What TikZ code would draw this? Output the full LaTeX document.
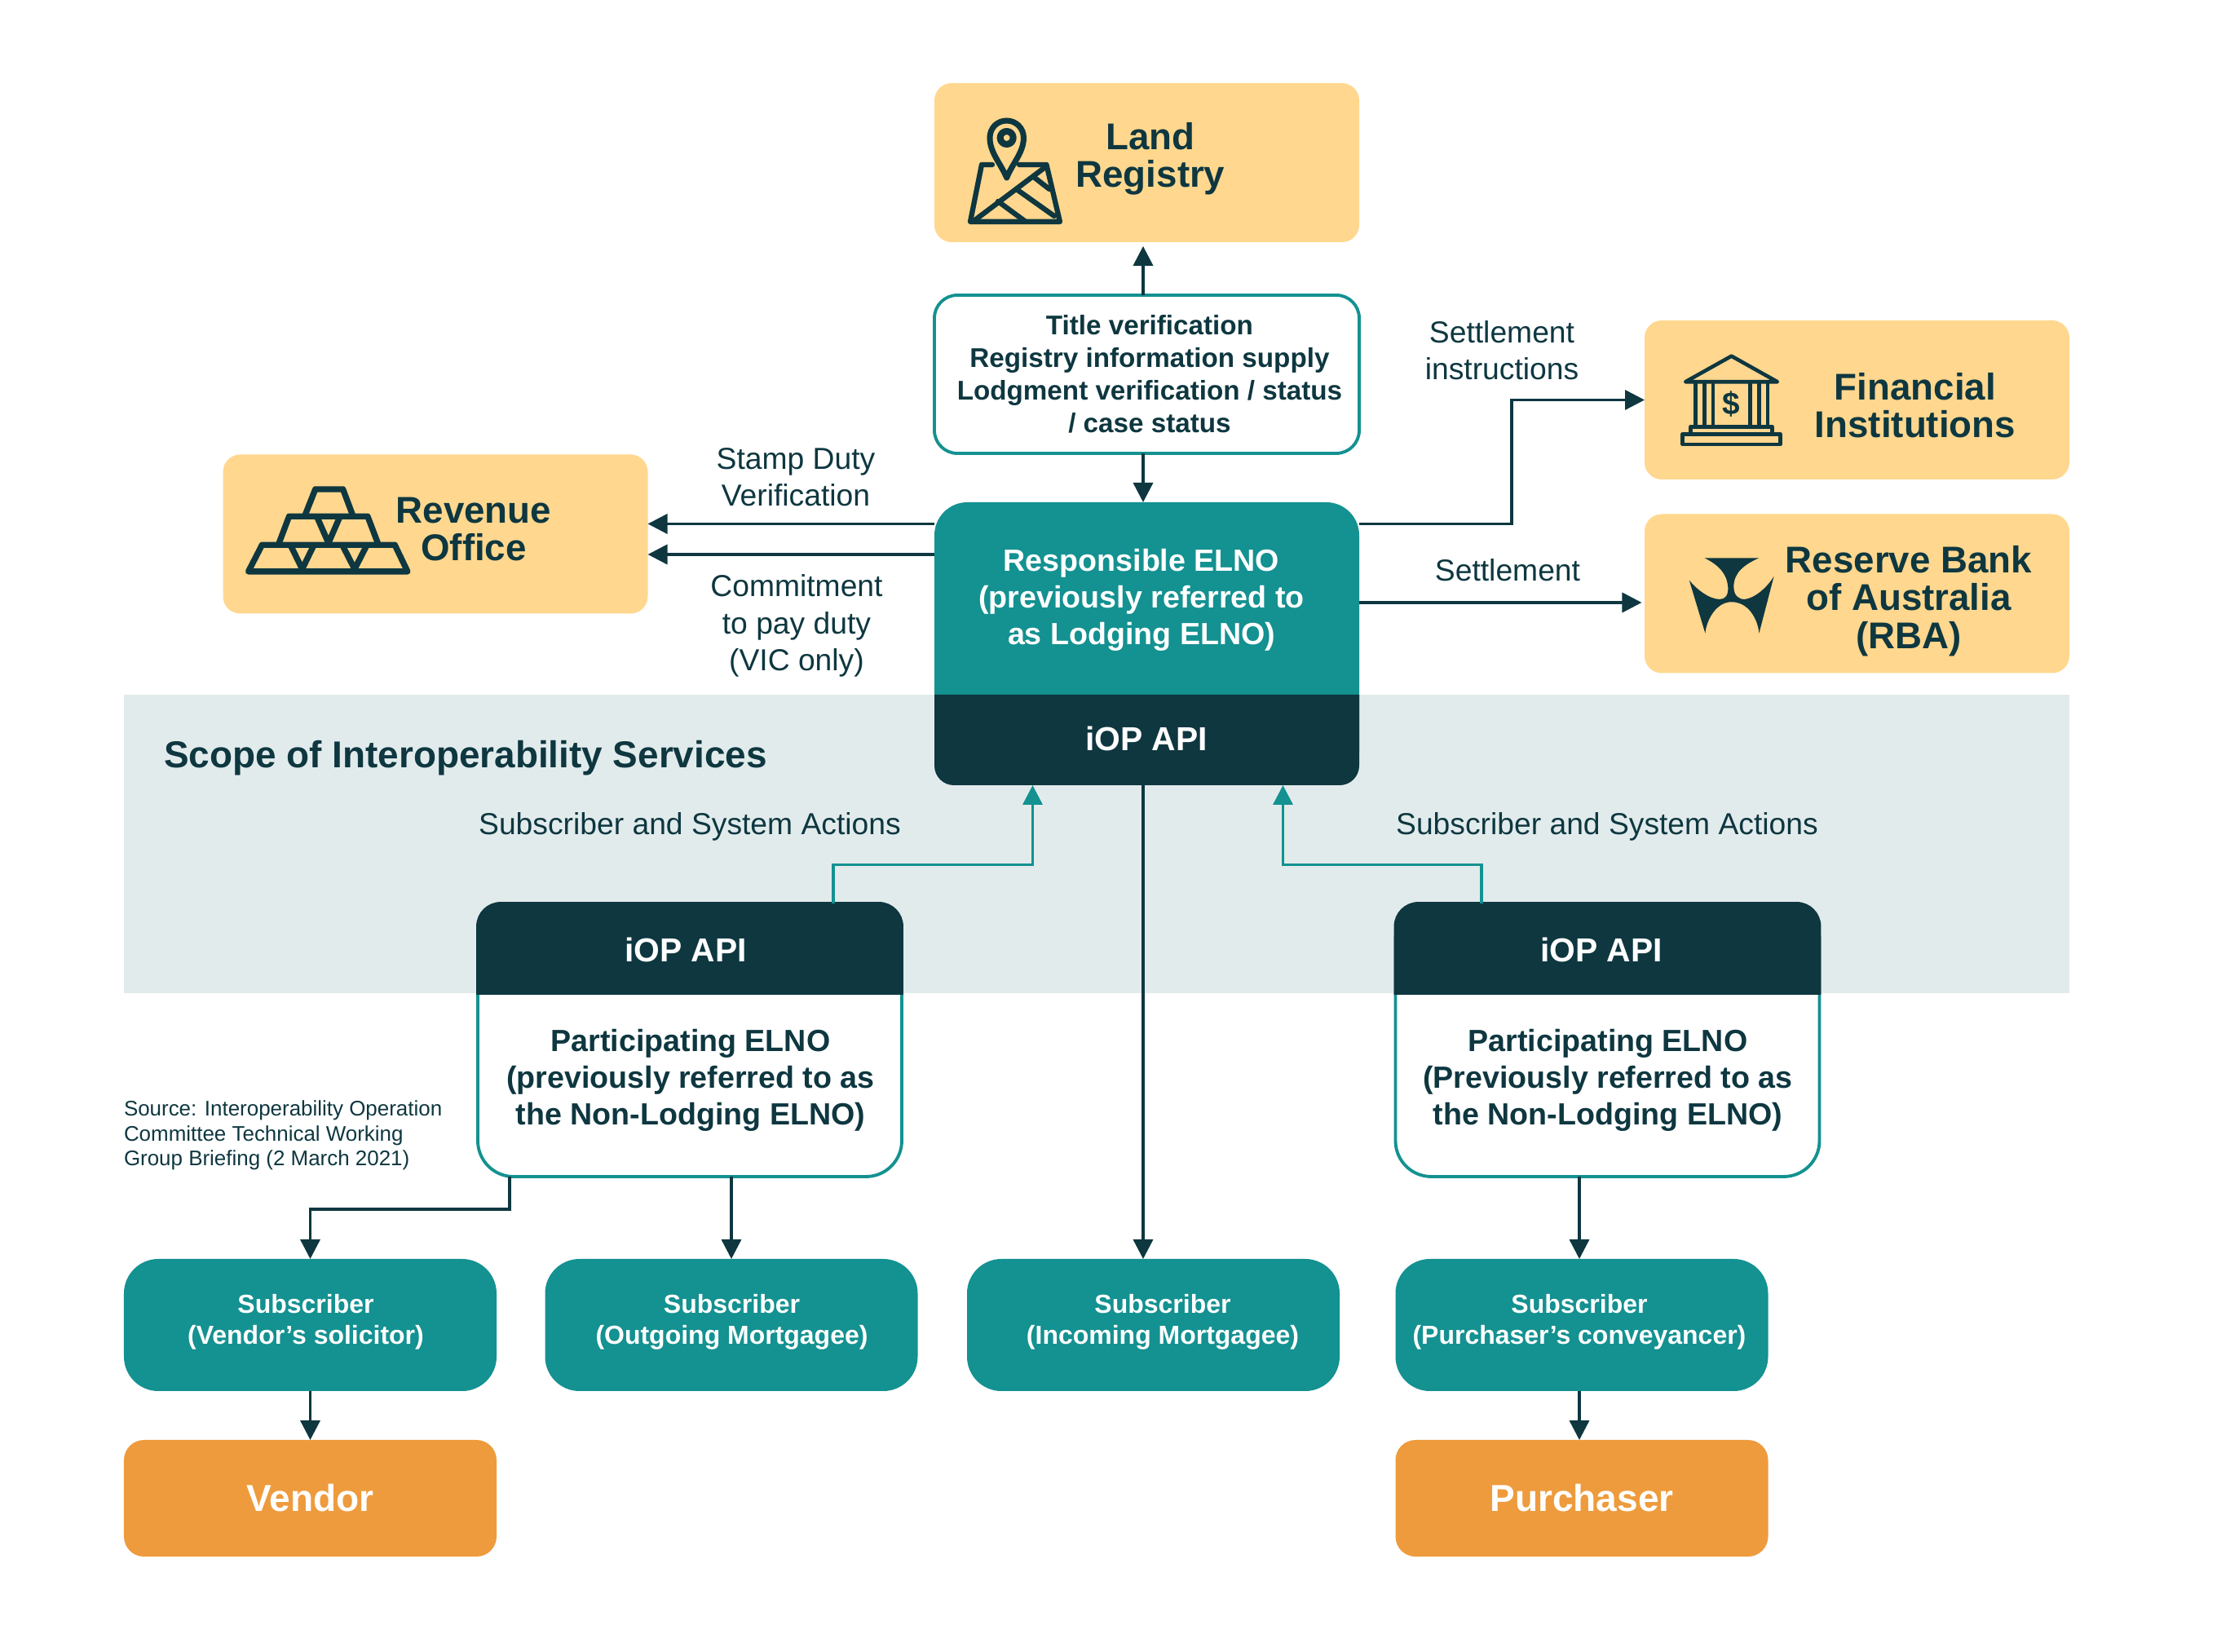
\documentclass[tikz,border=0pt]{standalone}
\usepackage{fontspec}
\setmainfont{Liberation Sans}
\usetikzlibrary{arrows.meta}

\definecolor{inkdark}{HTML}{0E3740}
\definecolor{tealbox}{HTML}{149191}
\definecolor{creambox}{HTML}{FFD78E}
\definecolor{orangebox}{HTML}{EE9B3D}
\definecolor{scopeband}{HTML}{E2EBEC}

\begin{document}
\begin{tikzpicture}[align=center, inner sep=0pt, outer sep=0pt, text=inkdark,
  agency/.style={fill=creambox, rounded corners=6pt, minimum width=5.21cm, minimum height=1.95cm},
  agencytext/.style={font=\bfseries\fontsize{13pt}{13.2pt}\selectfont},
  subscriber/.style={fill=tealbox, rounded corners=12pt, minimum width=4.57cm, minimum height=1.62cm},
  subtext/.style={text=white, font=\bfseries\fontsize{9.1pt}{10.9pt}\selectfont},
  party/.style={fill=orangebox, text=white, rounded corners=7pt, minimum width=4.57cm, minimum height=1.43cm,
    font=\bfseries\fontsize{13.1pt}{13.2pt}\selectfont},
  participant/.style={draw=tealbox, fill=white, line width=1.1pt, rounded corners=12.5pt, minimum width=5.20cm, minimum height=3.35cm},
  elnotext/.style={font=\bfseries\fontsize{10.7pt}{12.8pt}\selectfont},
  apitext/.style={text=white, font=\bfseries\fontsize{11.6pt}{13pt}\selectfont},
  flowtext/.style={font=\fontsize{10.6pt}{12.9pt}\selectfont},
  link/.style={draw=inkdark, line width=1pt, -{Triangle[length=.24cm,width=.24cm]}},
  apilink/.style={draw=tealbox, line width=1pt, -{Triangle[length=.24cm,width=.24cm]}},
  icon/.style={draw=inkdark, line join=round, line cap=round}]

\useasboundingbox (0, 0) rectangle (27.35, 20.26);

\fill[scopeband] (1.515, 8.08) rectangle (25.38, 11.74);

\node[agency] (land) at (14.065, 18.265) {};
\node[agencytext] (landtext) at (14.11, 18.31) {Land\\Registry};
\node[draw=tealbox, fill=white, line width=1.1pt, rounded corners=8pt, minimum width=5.21cm, minimum height=1.94cm] (title) at (14.065, 15.67) {};
\node[font=\bfseries\fontsize{9.45pt}{11.4pt}\selectfont] (titletext) at (14.10, 15.67)
  {Title verification\\Registry information supply\\Lodgment verification / status\\/ case status};
\node[agency] (revenue) at (5.34, 13.71) {};
\node[agencytext] (revenuetext) at (5.81, 13.77) {Revenue\\Office};
\node[agency] (financial) at (22.775, 15.355) {};
\node[agencytext] (financialtext) at (23.49, 15.29) {Financial\\Institutions};
\node[agency] (reserve) at (22.775, 12.98) {};
\node[agencytext] (reservetext) at (23.41, 12.89) {Reserve Bank\\of Australia\\(RBA)};

\node[fill=tealbox, rounded corners=11.5pt, minimum width=5.21cm, minimum height=3.47cm] (elno) at (14.065, 12.365) {};
\fill[inkdark] (11.46, 11.74) [rounded corners=6.8pt] -- (11.46, 10.63) -- (16.67, 10.63) [sharp corners] -- (16.67, 11.74) -- cycle;
\node[elnotext, text=white] (elnolabel) at (14.00, 12.90) {Responsible ELNO\\(previously referred to\\as Lodging ELNO)};
\node[apitext] (elnoapi) at (14.06, 11.20) {iOP API};

\node[participant] (partleft) at (8.46, 7.505) {};
\filldraw[draw=inkdark, fill=inkdark, line width=1.1pt] (5.86, 8.08) [rounded corners=8pt] -- (5.86, 9.18) -- (11.06, 9.18) [sharp corners] -- (11.06, 8.08) -- cycle;
\node[apitext] (apileft) at (8.41, 8.61) {iOP API};
\node[elnotext] (partlefttext) at (8.47, 7.01) {Participating ELNO\\(previously referred to as\\the Non-Lodging ELNO)};

\node[participant] (partright) at (19.715, 7.505) {};
\filldraw[draw=inkdark, fill=inkdark, line width=1.1pt] (17.115, 8.08) [rounded corners=8pt] -- (17.115, 9.18) -- (22.315, 9.18) [sharp corners] -- (22.315, 8.08) -- cycle;
\node[apitext] (apiright) at (19.64, 8.61) {iOP API};
\node[elnotext] (partrighttext) at (19.72, 7.01) {Participating ELNO\\(Previously referred to as\\the Non-Lodging ELNO)};

\node[subscriber] (subvendor) at (3.805, 4.01) {};
\node[subtext] (subvendortext) at (3.75, 4.05) {Subscriber\\(Vendor’s solicitor)};
\node[subscriber] (subout) at (8.97, 4.01) {};
\node[subtext] (subouttext) at (8.975, 4.05) {Subscriber\\(Outgoing Mortgagee)};
\node[subscriber] (subin) at (14.145, 4.01) {};
\node[subtext] (subintext) at (14.26, 4.05) {Subscriber\\(Incoming Mortgagee)};
\node[subscriber] (subpurch) at (19.40, 4.01) {};
\node[subtext] (subpurchtext) at (19.37, 4.05) {Subscriber\\(Purchaser’s conveyancer)};

\node[party] (vendor) at (3.805, 1.885) {Vendor};
\node[party] (purchaser) at (19.40, 1.885) {Purchaser};

\node[font=\bfseries\fontsize{13.06pt}{15pt}\selectfont, anchor=west] (scopelabel) at (2.01, 10.965) {Scope of Interoperability Services};
\node[font=\fontsize{7.38pt}{8.7pt}\selectfont, align=left, anchor=west] (source) at (1.52, 6.335)
  {Source: Interoperability Operation\\Committee Technical Working\\Group Briefing (2 March 2021)};

\node[flowtext] (stamp) at (9.76, 14.405) {Stamp Duty\\Verification};
\node[flowtext] (commit) at (9.77, 12.585) {Commitment\\to pay duty\\(VIC only)};
\node[flowtext] (instr) at (18.42, 15.96) {Settlement\\instructions};
\node[flowtext] (settle) at (18.49, 13.265) {Settlement};
\node[flowtext] (actleft) at (8.46, 10.125) {Subscriber and System Actions};
\node[flowtext] (actright) at (19.71, 10.125) {Subscriber and System Actions};

\coordinate (mid) at (14.02, 10);
\coordinate (dutytop) at (10, 13.835);
\coordinate (dutylow) at (10, 13.46);
\coordinate (finbend) at (18.54, 15.355);
\coordinate (settley) at (18, 12.87);
\coordinate (leftup) at (10.22, 9.655);
\coordinate (leftarr) at (12.665, 9.655);
\coordinate (rightup) at (18.17, 9.655);
\coordinate (rightarr) at (15.735, 9.655);
\coordinate (vendorbend) at (6.25, 5.43);
\coordinate (purchx) at (19.37, 5);

\draw[link, shorten >=1.4pt] (title.north -| mid) -- (land.south -| mid);
\draw[link] (title.south -| mid) -- (elno.north -| mid);
\draw[link] (elno.west |- dutytop) -- (revenue.east |- dutytop);
\draw[link] (elno.west |- dutylow) -- (revenue.east |- dutylow);
\draw[link] (elno.east |- dutytop) -| (finbend) -- (financial.west);
\draw[link, shorten >=1pt] (elno.east |- settley) -- (reserve.west |- settley);
\draw[link] (elno.south -| mid) -- (subin.north -| mid);
\draw[apilink] (partleft.north -| leftup) -- (leftup) -| (elno.south -| leftarr);
\draw[apilink] (partright.north -| rightup) -- (rightup) -| (elno.south -| rightarr);
\draw[link] (partleft.south -| vendorbend) -- (vendorbend) -| (subvendor.north);
\draw[link] (partleft.south -| subout.north) -- (subout.north);
\draw[link] (partright.south -| purchx) -- (subpurch.north -| purchx);
\draw[link] (subvendor.south) -- (vendor.north);
\draw[link] (subpurch.south -| purchx) -- (purchaser.north -| purchx);

% map pin
\begin{scope}[shift={(11.87, 18.81)}, x=.01cm, y=-.01cm, icon, line width=1.8pt]
\draw[line width=2pt] (47.7,73) .. controls (40,55) and (27,42) .. (27,24) .. controls (27,12) and (36,3) .. (47.7,3) .. controls (59,3) and (68.5,12) .. (68.5,24) .. controls (68.5,42) and (55,55) .. (47.7,73) -- cycle;
\draw[line width=2.3pt] (47.7,24) circle (8);
\draw (30,57) -- (17,57) -- (3,127) -- (113,127) -- (96.5,57) -- (63,57);
\draw (6,127) -- (95,60);
\draw (37,102) -- (71,127);
\draw (59.5,87) -- (106,120);
\draw (82,73) -- (100,87);
\end{scope}

% gold bars
\begin{scope}[shift={(3.00, 14.36)}, x=.01cm, y=-.01cm, icon, line width=2.1pt]
\draw (4.6,111) -- (21.4,78.3) -- (184.3,78.3) -- (200,111) -- cycle;
\draw (41.4,78.3) -- (54.6,43.3) -- (151,43.3) -- (164.3,78.3);
\draw (73.6,43.3) -- (86.8,10) -- (120.7,10) -- (133.2,43.3);
\draw (89.3,45) -- (102.9,76) -- (116.4,45);
\draw (57,80) -- (70.7,108) -- (84.3,80);
\draw (120.7,80) -- (135,108) -- (149.3,80);
\end{scope}

% bank
\begin{scope}[shift={(20.60, 15.96)}, x=.01cm, y=-.01cm, icon, line width=1.3pt]
\draw (7.1,38.3) -- (63.6,6.7) -- (120,38.3) -- cycle;
\foreach \colx in {19.6, 30.4, 41, 86.8, 97.5, 108.2}
  \draw (\colx,38.3) -- (\colx,93.3);
\draw (13.6,101.7) -- (13.6,93.3) -- (113.6,93.3) -- (113.6,101.7);
\draw (3.6,102.7) rectangle (123.6,115);
\node[font=\bfseries\fontsize{11pt}{11pt}\selectfont] (dollar) at (63.6,66) {\$};
\end{scope}

% reserve bank mark
\begin{scope}[shift={(20.60, 13.46)}, x=.01cm, y=-.01cm]
\fill[inkdark] (30.4,4.3) -- (97.5,4.3) .. controls (80,12) and (66,22) .. (66.4,40) .. controls (66.5,50) and (72,55) .. (79.6,55) .. controls (92,54) and (108,40) .. (115.7,26.7) -- (97.5,96.7) .. controls (96,80) and (85,58.3) .. (63.6,58.3) .. controls (45,58.3) and (33,80) .. (31.4,96.7) -- (11.8,31.7) .. controls (20,42) and (36,55) .. (49.3,55) .. controls (56,55) and (60,50) .. (59.3,40) .. controls (58,22) and (46,12) .. (30.4,4.3) -- cycle;
\end{scope}

\end{tikzpicture}
\end{document}
